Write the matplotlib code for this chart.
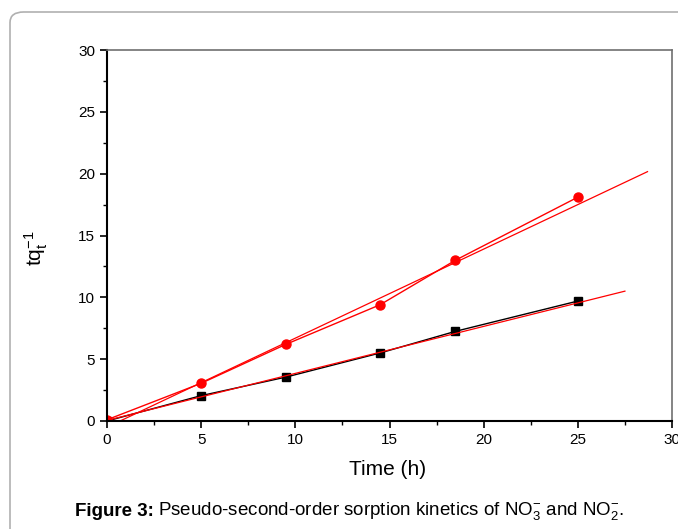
import matplotlib
matplotlib.use("Agg")
import matplotlib.pyplot as plt
import numpy as np
from matplotlib.patches import FancyBboxPatch
from matplotlib.ticker import MultipleLocator

plt.rcParams['font.family'] = ['Liberation Sans', 'DejaVu Sans']
plt.rcParams['mathtext.fontset'] = 'custom'
plt.rcParams['mathtext.rm'] = 'Liberation Sans'
plt.rcParams['mathtext.it'] = 'Liberation Sans:italic'
plt.rcParams['mathtext.bf'] = 'Liberation Sans:bold'

# data
time_h = [0, 5, 9.5, 14.5, 18.5, 25]
no3_tq = [0.1, 3.05, 6.2, 9.4, 13.0, 18.1]   # red circles
no2_tq = [0.0, 2.05, 3.55, 5.5, 7.25, 9.7]   # black squares

# linear fits (slope, intercept) and their end points
no3_fit = (0.72, -0.5)
no3_fit_end = 28.7
no2_fit = (0.38, 0.05)
no2_fit_end = 27.5

fig = plt.figure(figsize=(6.78, 5.29), dpi=100)

# rounded frame around the figure
frame = FancyBboxPatch((10 / 678, -0.2), 1.2, 1.2 - 12 / 529,
                       boxstyle="round,pad=0,rounding_size=0.02",
                       transform=fig.transFigure, fill=False,
                       edgecolor="#b0b0b0", linewidth=1.2)
fig.patches.append(frame)

ax = fig.add_axes([107 / 678, 1 - 421 / 529, (672 - 107) / 678, (421 - 50) / 529])

ax.plot(time_h, no2_tq, color="black", marker="s", markersize=5.5, linewidth=1.0)
ax.plot(time_h, no3_tq, color="red", marker="o", markersize=6.5, linewidth=1.0)

xs = np.array([0, no3_fit_end])
ax.plot(xs, no3_fit[0] * xs + no3_fit[1], color="red", linewidth=0.9)
xs = np.array([0, no2_fit_end])
ax.plot(xs, no2_fit[0] * xs + no2_fit[1], color="red", linewidth=0.9)

ax.set_xlim(0, 30)
ax.set_ylim(0, 30)
ax.xaxis.set_major_locator(MultipleLocator(5))
ax.yaxis.set_major_locator(MultipleLocator(5))
ax.xaxis.set_minor_locator(MultipleLocator(2.5))
ax.yaxis.set_minor_locator(MultipleLocator(2.5))
ax.tick_params(which="both", direction="out", top=False, right=False, labelsize=11)
ax.tick_params(which="major", length=5, width=1.2)
ax.tick_params(which="minor", length=3, width=1.0)

for side in ("left", "bottom"):
    ax.spines[side].set_linewidth(1.5)
    ax.spines[side].set_color("black")
for side in ("top", "right"):
    ax.spines[side].set_linewidth(1.2)
    ax.spines[side].set_color("#707070")

ax.set_xlabel("Time (h)", fontsize=15)
ax.xaxis.set_label_coords(0.496, -0.105)
ax.set_ylabel(r"tq$_\mathrm{t}^\mathrm{-1}$", fontsize=15)
ax.yaxis.set_label_coords(-0.10, 0.466)

# caption: bold part then regular part placed right after it
cap_y = 1 - 511 / 529
bold = fig.text(75 / 678, cap_y, "Figure 3:", fontsize=13.5, fontweight="bold",
                va="center", ha="left")
fig.canvas.draw()
bb = bold.get_window_extent()
fig.text((bb.x1 + 4) / 678, cap_y,
         r"Pseudo-second-order sorption kinetics of NO$_\mathrm{3}^\mathrm{-}$ and NO$_\mathrm{2}^\mathrm{-}$.",
         fontsize=13.5, va="center", ha="left")

fig.savefig("out.png", dpi=100)
